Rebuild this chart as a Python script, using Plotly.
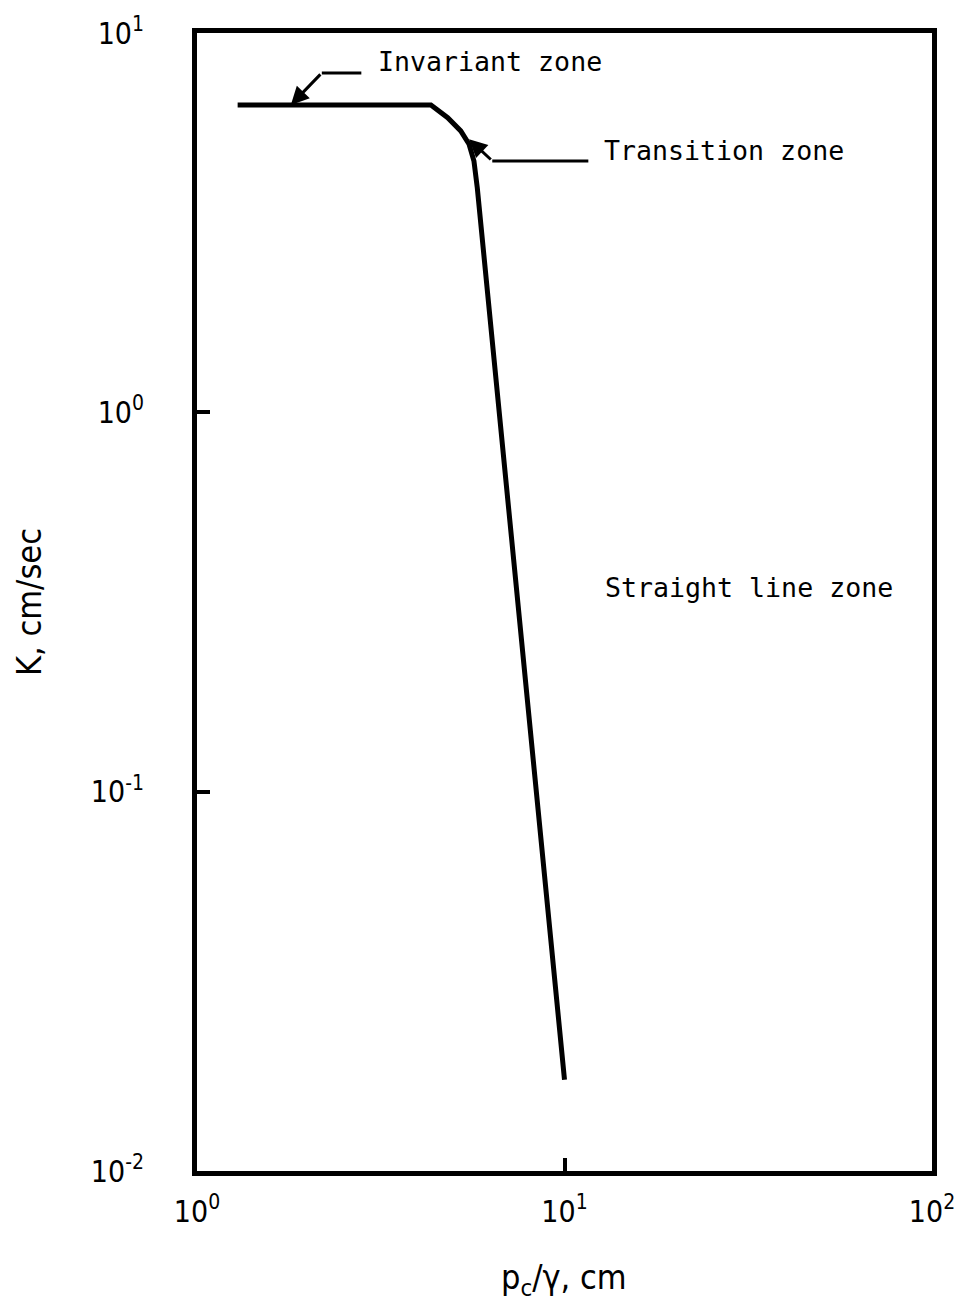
import math
import plotly.graph_objects as go

# Hydraulic conductivity vs. capillary pressure head (log-log)
pressure_head = [1.29, 4.33, 4.81, 5.22, 5.50, 5.67, 5.79, 10.0]
conductivity = [6.46, 6.46, 5.98, 5.52, 5.09, 4.60, 3.91, 0.0174]

x_tick_vals = [1, 10, 100]
x_tick_text = ["10<sup>0</sup>", "10<sup>1</sup>", "10<sup>2</sup>"]
y_tick_vals = [0.01, 0.1, 1, 10]
y_tick_text = ["10<sup>-2</sup>", "10<sup>-1</sup>", "10<sup>0</sup>", "10<sup>1</sup>"]

TICK_FONT = "Liberation Sans Narrow, DejaVu Sans Condensed, Liberation Sans, Arial, sans-serif"
NOTE_FONT = "DejaVu Sans Mono, Liberation Mono, monospace"

L = math.log10

fig = go.Figure()

fig.add_trace(go.Scatter(
    x=pressure_head, y=conductivity, mode="lines",
    line=dict(color="black", width=5), showlegend=False, hoverinfo="skip",
))

# horizontal parts of the zone leader lines
fig.add_trace(go.Scatter(
    x=[2.186, 2.80], y=[7.85, 7.85], mode="lines",
    line=dict(color="black", width=3), showlegend=False, hoverinfo="skip",
))
fig.add_trace(go.Scatter(
    x=[6.36, 11.61], y=[4.60, 4.60], mode="lines",
    line=dict(color="black", width=3), showlegend=False, hoverinfo="skip",
))

annotations = [
    # arrowed diagonals of the leaders (log units on log axes)
    dict(x=L(1.80), y=L(6.46), ax=L(2.186), ay=L(7.85), axref="x", ayref="y",
         xref="x", yref="y", text="", showarrow=True, arrowhead=2,
         arrowsize=1.2, arrowwidth=3, arrowcolor="black", standoff=0),
    dict(x=L(5.50), y=L(5.25), ax=L(6.36), ay=L(4.60), axref="x", ayref="y",
         xref="x", yref="y", text="", showarrow=True, arrowhead=2,
         arrowsize=1.2, arrowwidth=3, arrowcolor="black", standoff=0),
    dict(x=0.488, y=0.9236, xref="x", yref="y", text="Invariant zone",
         showarrow=False, xanchor="left", yanchor="middle",
         font=dict(family=NOTE_FONT, size=26.6, color="black")),
    dict(x=1.1024, y=0.6892, xref="x", yref="y", text="Transition zone",
         showarrow=False, xanchor="left", yanchor="middle",
         font=dict(family=NOTE_FONT, size=26.6, color="black")),
    dict(x=1.105, y=-0.4617, xref="x", yref="y", text="Straight line zone",
         showarrow=False, xanchor="left", yanchor="middle",
         font=dict(family=NOTE_FONT, size=26.6, color="black")),
    # axis titles
    dict(x=0, y=0.5, xref="paper", yref="paper", xshift=-168,
         text="K, cm/sec", textangle=-90, showarrow=False,
         xanchor="center", yanchor="middle",
         font=dict(family=TICK_FONT, size=34, color="black")),
    dict(x=0.5, y=0, xref="paper", yref="paper", yshift=-108, xshift=-1,
         text="p<sub>c</sub>/\u03b3, cm", showarrow=False,
         xanchor="center", yanchor="middle",
         font=dict(family=TICK_FONT, size=34, color="black")),
]

axis_common = dict(
    showgrid=False, zeroline=False, showline=True, mirror=True,
    linecolor="black", linewidth=5, ticks="inside", ticklen=13,
    tickwidth=4, tickcolor="black", ticklabeloverflow="allow",
    tickfont=dict(family=TICK_FONT, size=30, color="black"),
)

fig.update_layout(
    width=967, height=1306,
    margin=dict(l=197, r=28, t=32, b=135),
    paper_bgcolor="white", plot_bgcolor="white",
    xaxis=dict(type="log", range=[0, 2], tickvals=x_tick_vals,
               ticktext=x_tick_text, ticklabelstandoff=10, **axis_common),
    yaxis=dict(type="log", range=[-2, 1], tickvals=y_tick_vals,
               ticktext=y_tick_text, ticklabelstandoff=42, **axis_common),
    annotations=annotations,
    showlegend=False,
)

fig.write_html("out.html")
